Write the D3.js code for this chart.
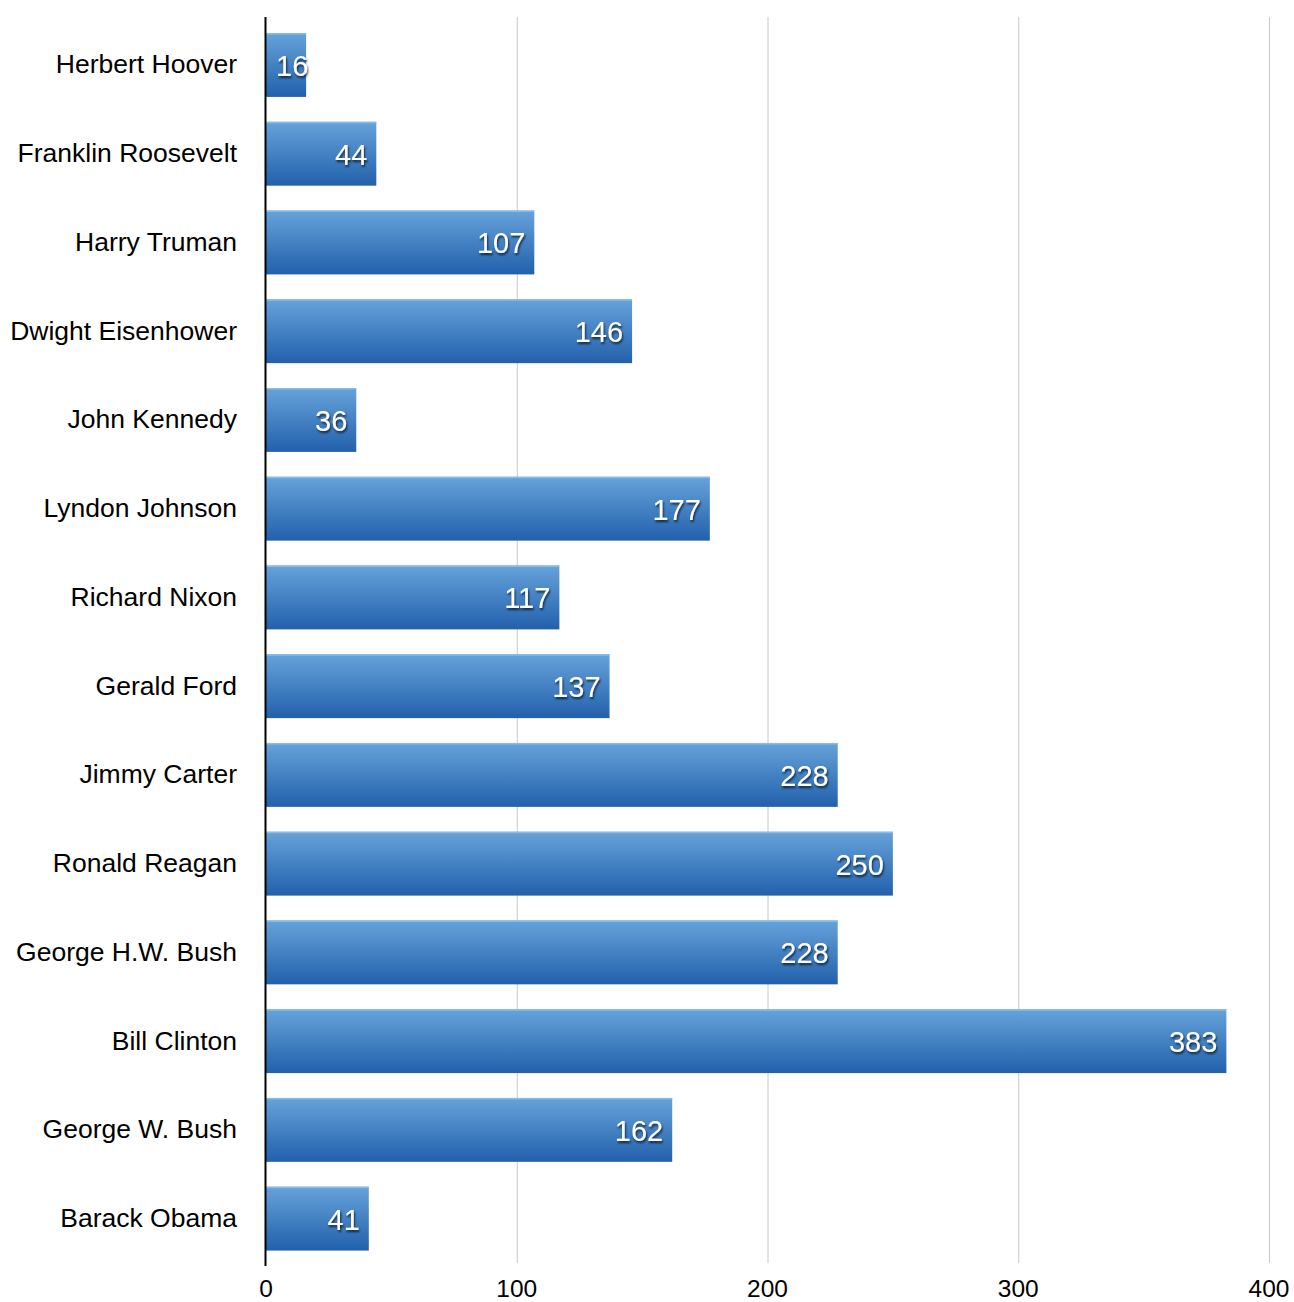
<!DOCTYPE html>
<html><head><meta charset="utf-8">
<script src="https://cdn.jsdelivr.net/npm/d3@7"></script>
<style>body{margin:0;background:#fff}svg{display:block}</style>
</head><body>
<svg id="chart" width="1294" height="1302"></svg>
<script>
const categories = ["Herbert Hoover","Franklin Roosevelt","Harry Truman","Dwight Eisenhower","John Kennedy","Lyndon Johnson","Richard Nixon","Gerald Ford","Jimmy Carter","Ronald Reagan","George H.W. Bush","Bill Clinton","George W. Bush","Barack Obama"];
const values = [16,44,107,146,36,177,117,137,228,250,228,383,162,41];
const tickValues = [0,100,200,300,400];

const svg = d3.select("#chart");
const font = "'Liberation Sans', Arial, Helvetica, sans-serif";
const x = d3.scaleLinear().domain([0,400]).range([266,1269]);
const y = d3.scaleBand().domain(categories).range([20.6,1263]).paddingInner(0.28).paddingOuter(0.14);

const defs = svg.append("defs");
const g = defs.append("linearGradient").attr("id","barGrad").attr("x1",0).attr("y1",0).attr("x2",0).attr("y2",1);
g.append("stop").attr("offset","0%").attr("stop-color","#66a3da");
g.append("stop").attr("offset","100%").attr("stop-color","#2260ac");
const f = defs.append("filter").attr("id","shadow").attr("x","-20%").attr("y","-20%").attr("width","140%").attr("height","160%");
f.append("feDropShadow").attr("dx",1).attr("dy",2).attr("stdDeviation",1.2).attr("flood-color","#000").attr("flood-opacity",0.7);

// gridlines
svg.append("g").selectAll("line").data(tickValues.filter(d=>d>0)).join("line")
  .attr("x1",d=>x(d)+0.5).attr("x2",d=>x(d)+0.5).attr("y1",17).attr("y2",1263)
  .attr("stroke","#c8c8c8").attr("stroke-width",1);

// bars
const bars = svg.append("g");
bars.selectAll("rect.bar").data(values).join("rect").attr("class","bar")
  .attr("x",x(0)).attr("y",(d,i)=>y(categories[i]))
  .attr("width",d=>x(d)-x(0)).attr("height",y.bandwidth())
  .attr("fill","url(#barGrad)");
bars.selectAll("rect.hl").data(values).join("rect").attr("class","hl")
  .attr("x",x(0)).attr("y",(d,i)=>y(categories[i]))
  .attr("width",d=>x(d)-x(0)).attr("height",1.5)
  .attr("fill","#8cbbe6");

// value labels
const vl = svg.append("g").selectAll("text").data(values).join("text")
  .attr("y",(d,i)=>y(categories[i])+y.bandwidth()/2)
  .attr("dy","0.38em")
  .attr("text-anchor","end")
  .attr("fill","#fff").attr("filter","url(#shadow)")
  .style("font-family",font).style("font-size","29px")
  .text(d=>d);
vl.each(function(d){
  const w = this.getComputedTextLength();
  d3.select(this).attr("x", Math.max(x(d)-9, x(0)+10+w));
});

// category labels
svg.append("g").selectAll("text").data(categories).join("text")
  .attr("x",237).attr("y",d=>y(d)+y.bandwidth()/2).attr("dy","0.32em")
  .attr("text-anchor","end").attr("fill","#000")
  .style("font-family",font).style("font-size","26.5px")
  .text(d=>d);

// tick labels
svg.append("g").selectAll("text").data(tickValues).join("text")
  .attr("x",d=>x(d)).attr("y",1297)
  .attr("text-anchor","middle").attr("fill","#000")
  .style("font-family",font).style("font-size","24.5px")
  .text(d=>d);

// axis line
svg.append("line").attr("x1",265.5).attr("x2",265.5).attr("y1",17).attr("y2",1266)
  .attr("stroke","#000").attr("stroke-width",2);
</script>
</body></html>
